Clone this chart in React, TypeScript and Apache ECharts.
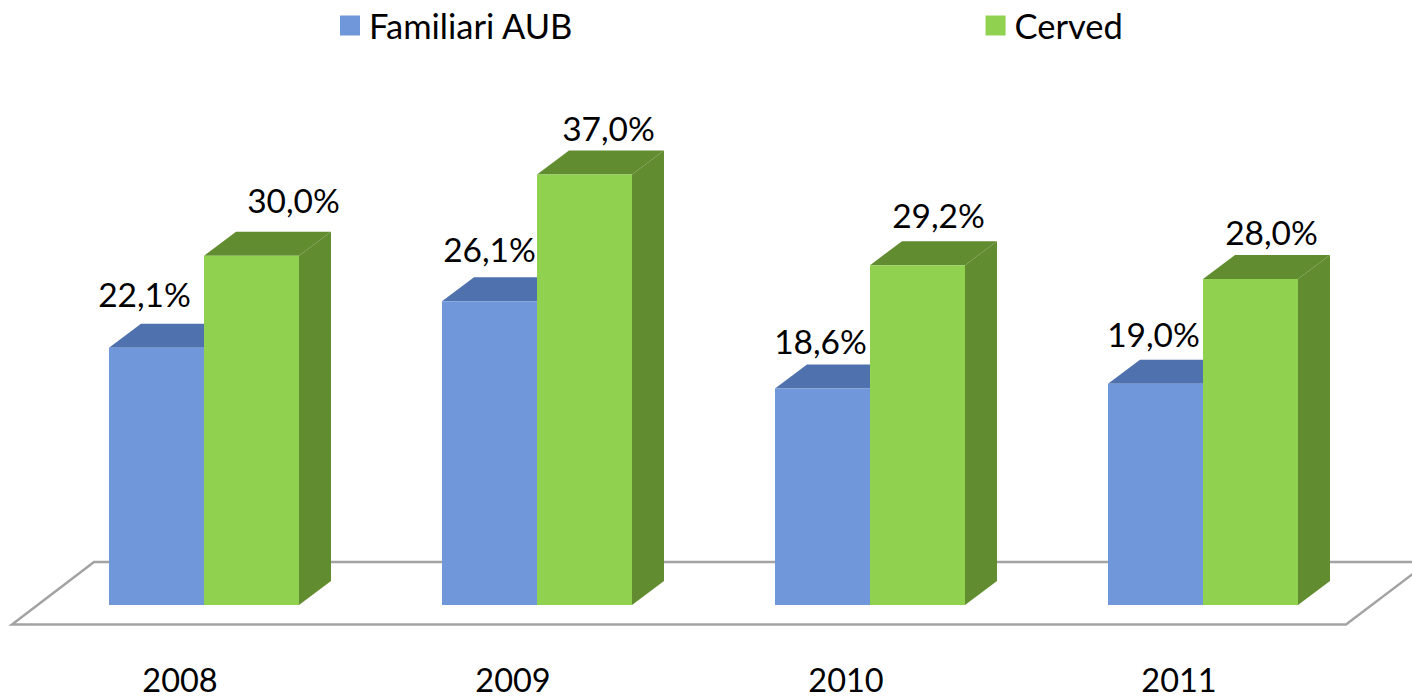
import React, { useEffect, useRef } from "react";
import * as echarts from "echarts";

const categories = ["2008", "2009", "2010", "2011"];
const familiari = [22.1, 26.1, 18.6, 19.0];
const cerved = [30.0, 37.0, 29.2, 28.0];
const familiariLabelShift = [[-12, -54], [0, -52], [-2, -48], [-2, -50]];
const cervedLabelShift = [[42, -56], [24, -46], [21, -50], [21, -47]];

const FONT = "Lato";
const DEPTH_X = 32;
const DEPTH_Y = 24;
const BAR_W = 95;

const fmt = (v: number) => v.toFixed(1).replace(".", ",") + "%";

function bar3d(front: string, top: string, side: string, leftOffset: number, shifts: number[][]) {
  return (params: any, api: any) => {
    const idx = api.value(0);
    const val = api.value(1);
    const [cx, y1] = api.coord([idx, val]);
    const [, y0] = api.coord([idx, 0]);
    const x0 = cx + leftOffset;
    const x1 = x0 + BAR_W;
    const s = shifts[params.dataIndex];
    return {
      type: "group",
      children: [
        { type: "polygon", shape: { points: [[x0, y1], [x1, y1], [x1 + DEPTH_X, y1 - DEPTH_Y], [x0 + DEPTH_X, y1 - DEPTH_Y]] }, style: { fill: top } },
        { type: "polygon", shape: { points: [[x1, y1], [x1 + DEPTH_X, y1 - DEPTH_Y], [x1 + DEPTH_X, y0 - DEPTH_Y], [x1, y0]] }, style: { fill: side } },
        { type: "rect", shape: { x: x0, y: y1, width: BAR_W, height: y0 - y1 }, style: { fill: front } },
        {
          type: "text",
          z2: 100,
          style: {
            x: (x0 + x1) / 2 + s[0],
            y: y1 + s[1],
            text: fmt(val),
            fill: "#000",
            font: `33.5px ${FONT}`,
            align: "center",
            verticalAlign: "middle",
          },
        },
      ],
    };
  };
}

export default function App() {
  const ref = useRef<HTMLDivElement>(null);
  useEffect(() => {
    const chart = echarts.init(ref.current!, undefined, { renderer: "svg" });
    chart.setOption({
      animation: false,
      backgroundColor: "#fff",
      textStyle: { fontFamily: FONT },
      legend: {
        left: 335,
        top: 3,
        itemWidth: 20,
        itemHeight: 20,
        itemGap: 412,
        icon: "rect",
        textStyle: { fontSize: 34.5, color: "#000", fontFamily: FONT, padding: [0, 0, 10, 4] },
        data: ["Familiari AUB", "Cerved"],
      },
      grid: { left: 13.5, width: 1332, top: 90, height: 516 },
      xAxis: {
        type: "category",
        data: categories,
        axisLine: { show: false },
        axisTick: { show: false },
        axisLabel: { fontSize: 32.5, lineHeight: 28, color: "#000", margin: 60.5, fontFamily: FONT },
      },
      yAxis: { type: "value", min: 0, max: 44.25, show: false, splitLine: { show: false } },
      graphic: [
        {
          type: "polyline",
          z: 0,
          shape: { points: [[1414, 562], [94, 562], [12, 624.5], [1346, 624.5], [1414, 573]] },
          style: { fill: "none", stroke: "#a3a3a3", lineWidth: 2.5 },
        },
      ],
      series: [
        {
          name: "Familiari AUB",
          type: "custom",
          z: 3,
          clip: false,
          itemStyle: { color: "#7097d9" },
          encode: { x: 0, y: 1 },
          renderItem: bar3d("#7097d9", "#4f71ad", "#4f71ad", -71, familiariLabelShift),
          data: familiari.map((v, i) => [i, v]),
        },
        {
          name: "Cerved",
          type: "custom",
          z: 3,
          clip: false,
          itemStyle: { color: "#90d24f" },
          encode: { x: 0, y: 1 },
          renderItem: bar3d("#90d24f", "#628c30", "#628c30", 24, cervedLabelShift),
          data: cerved.map((v, i) => [i, v]),
        },
      ],
    });
    return () => chart.dispose();
  }, []);
  return (
    <div style={{ position: "fixed", left: 0, top: 0, width: 1412, height: 696 }}>
      <div ref={ref} style={{ width: 1412, height: 696 }} />
    </div>
  );
}
